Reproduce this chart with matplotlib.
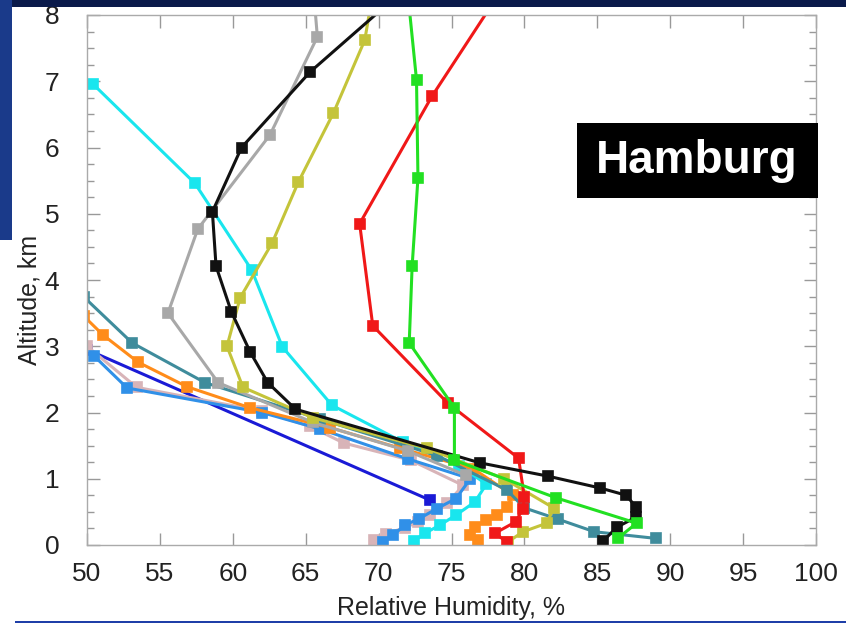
import matplotlib
matplotlib.use("Agg")
import matplotlib.pyplot as plt
from matplotlib.patches import Rectangle
from matplotlib.ticker import MultipleLocator

# ---------------- data ----------------
black_rh  = [70.8, 65.3, 60.6, 58.6, 58.85, 59.9, 61.2, 62.4, 64.3, 76.95, 81.6, 85.2, 87.0, 87.65, 87.65, 86.35, 85.4]
black_alt = [8.2, 7.14, 6.0, 5.03, 4.21, 3.52, 2.91, 2.45, 2.05, 1.24, 1.04, 0.86, 0.75, 0.57, 0.42, 0.27, 0.06]

green_rh  = [72.06, 72.6, 72.7, 72.3, 72.1, 75.2, 75.2, 82.2, 87.7, 86.4]
green_alt = [8.2, 7.02, 5.54, 4.21, 3.05, 2.07, 1.28, 0.71, 0.33, 0.10]

red_rh  = [77.9, 73.65, 68.7, 69.6, 74.75, 79.6, 80.0, 79.9, 79.4, 78.0, 78.8]
red_alt = [8.2, 6.77, 4.85, 3.31, 2.14, 1.31, 0.72, 0.55, 0.35, 0.18, 0.04]

yellow_rh  = [69.5, 69.05, 66.9, 64.5, 62.7, 60.5, 59.6, 60.7, 65.5, 73.3, 78.6, 82.0, 81.55, 79.9, 78.9]
yellow_alt = [8.2, 7.62, 6.52, 5.48, 4.56, 3.73, 3.00, 2.38, 1.92, 1.46, 1.00, 0.56, 0.33, 0.20, 0.05]

cyan_rh  = [50.4, 57.4, 61.3, 63.4, 66.8, 71.7, 75.5, 77.4, 76.6, 75.3, 74.2, 73.2, 72.4]
cyan_alt = [6.96, 5.46, 4.15, 2.99, 2.11, 1.55, 1.20, 0.92, 0.65, 0.45, 0.30, 0.18, 0.06]

gray_rh  = [65.6, 65.8, 62.55, 57.6, 55.55, 59.0, 65.5, 72.0, 76.0]
gray_alt = [8.2, 7.67, 6.19, 4.77, 3.50, 2.45, 1.85, 1.42, 1.05]

dodger_rh  = [50.5, 52.75, 62.0, 66.0, 72.0, 76.3, 75.3, 74.0, 72.8, 71.8, 71.0, 70.3]
dodger_alt = [2.85, 2.37, 2.00, 1.75, 1.30, 1.00, 0.70, 0.55, 0.40, 0.30, 0.15, 0.05]

pink_rh  = [50.0, 53.4, 62.0, 65.3, 67.6, 72.2, 75.8, 74.7, 73.5, 72.7, 71.8, 70.5, 69.7]
pink_alt = [3.00, 2.38, 2.02, 1.79, 1.54, 1.28, 0.90, 0.63, 0.45, 0.35, 0.26, 0.17, 0.07]

navy_rh  = [50.0, 73.5]
navy_alt = [2.95, 0.68]

teal_rh  = [49.8, 53.1, 58.1, 66.0, 74.0, 78.8, 80.0, 82.3, 84.8, 89.0]
teal_alt = [3.74, 3.05, 2.45, 1.90, 1.35, 0.83, 0.56, 0.39, 0.20, 0.10]

orange_rh  = [49.8, 51.1, 53.5, 56.85, 61.2, 66.7, 71.5, 76.5, 79.2, 78.8, 78.1, 77.4, 76.6, 76.3, 76.8]
orange_alt = [3.45, 3.17, 2.76, 2.39, 2.07, 1.77, 1.46, 1.15, 0.75, 0.57, 0.45, 0.38, 0.27, 0.15, 0.07]

x_ticks = [50, 55, 60, 65, 70, 75, 80, 85, 90, 95, 100]
y_ticks = [0, 1, 2, 3, 4, 5, 6, 7, 8]

# ---------------- figure ----------------
W, H = 846, 635
fig = plt.figure(figsize=(W / 100, H / 100), dpi=100)
fig.patch.set_facecolor("white")

# slide background remnants
fig.patches.append(Rectangle((0, 1 - 7 / H), 1, 7 / H, transform=fig.transFigure,
                             facecolor="#0a1a4a", edgecolor="none", zorder=0))
fig.patches.append(Rectangle((0, 1 - 240 / H), 12 / W, 240 / H, transform=fig.transFigure,
                             facecolor="#1a3a8a", edgecolor="none", zorder=0))
fig.patches.append(Rectangle((15 / W, 1 - 623 / H), 1 - 15 / W, 2 / H, transform=fig.transFigure,
                             facecolor="#1f3fa8", edgecolor="none", zorder=0))

ax = fig.add_axes([87 / W, 1 - 545 / H, (816 - 87) / W, (545 - 15) / H])
ax.set_xlim(50, 100)
ax.set_ylim(0, 8)

series = [
    (navy_rh, navy_alt, "#1a1ad6"),
    (pink_rh, pink_alt, "#d8b4b8"),
    (dodger_rh, dodger_alt, "#3090e8"),
    (cyan_rh, cyan_alt, "#19e6ee"),
    (orange_rh, orange_alt, "#ff8c1a"),
    (teal_rh, teal_alt, "#3f8c9c"),
    (gray_rh, gray_alt, "#a8a8a8"),
    (yellow_rh, yellow_alt, "#c4c43a"),
    (red_rh, red_alt, "#f01818"),
    (black_rh, black_alt, "#111111"),
    (green_rh, green_alt, "#22e022"),
]
for rh, alt, c in series:
    ax.plot(rh, alt, color=c, lw=2.2, marker="s", ms=7, mfc=c, mec=c, mew=1.2)

ax.set_xticks(x_ticks)
ax.set_yticks(y_ticks)
ax.yaxis.set_minor_locator(MultipleLocator(0.25))
ax.tick_params(which="both", direction="in", top=True, right=True, colors="#999999")
ax.tick_params(which="major", length=9, width=1)
ax.tick_params(which="minor", length=5, width=1)
ax.tick_params(axis="x", labelsize=19, pad=12, labelcolor="#222222")
ax.tick_params(axis="y", labelsize=19, pad=20, labelcolor="#222222")
for lab in ax.get_xticklabels() + ax.get_yticklabels():
    lab.set_family("Liberation Sans")
for s in ax.spines.values():
    s.set_color("#aaaaaa")
    s.set_linewidth(1)

fig.text(451 / W, 1 - 608 / H, "Relative Humidity, %", ha="center", va="center",
         fontsize=18, family="Liberation Sans", color="#222222")
fig.text(30 / W, 1 - 300 / H, "Altitude, km", ha="center", va="center", rotation=90,
         fontsize=18, family="Liberation Sans", color="#222222")

# Hamburg label box
fig.patches.append(Rectangle((577 / W, 1 - 198 / H), (818 - 577) / W, (198 - 123) / H,
                             transform=fig.transFigure, facecolor="black", edgecolor="none", zorder=5))
fig.text(697 / W, 1 - 161 / H, "Hamburg", ha="center", va="center", fontsize=33,
         fontweight="bold", family="Liberation Sans", color="white", zorder=6)

fig.savefig("out.png", dpi=100)
